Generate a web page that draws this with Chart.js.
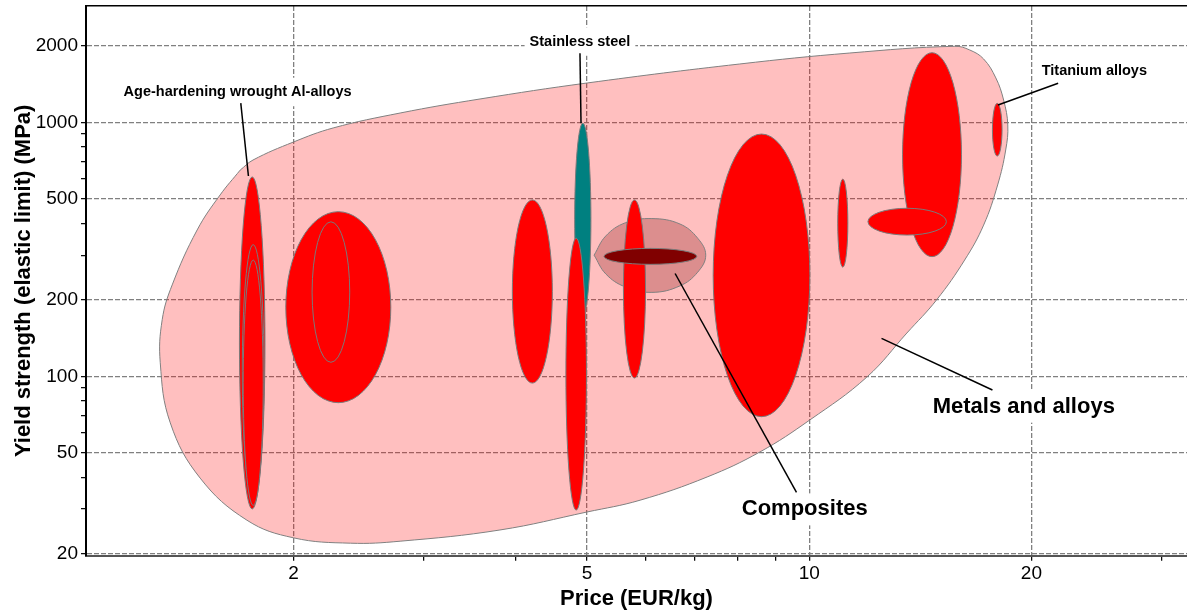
<!DOCTYPE html>
<html>
<head>
<meta charset="utf-8">
<script src="https://cdn.jsdelivr.net/npm/chart.js@4.4.1/dist/chart.umd.min.js"></script>
<style>
  html, body { margin: 0; padding: 0; background: #fff; }
</style>
</head>
<body>
<canvas id="graficoMateriais" width="1187" height="611"></canvas>
<script>
// eixos (log-log)
const priceMin = 1.047, priceMax = 32.5;
const strengthMin = 19.64, strengthMax = 2875;
const xLabelTicks = [2, 5, 10, 20];
const xMinorTicks = [3, 4, 6, 7, 8, 9, 30];
const yLabelTicks = [20, 50, 100, 200, 500, 1000, 2000];
const yMinorTicks = [30, 40, 60, 70, 80, 90, 300, 400, 600, 700, 800, 900];

// envelope "Metals and alloys" (contorno)
const metalsPrice = [1.694, 1.763, 2.0, 2.264, 2.79, 3.58, 5.0, 8.05, 11.35, 15.75, 16.5, 17.23, 17.9, 18.34, 18.58, 18.46, 18.0, 17.23, 16.24, 14.88, 13.56, 11.97, 10.02, 8.57, 7.27, 5.9, 5.0, 3.81, 2.79, 2.39, 2.0, 1.73, 1.495, 1.362, 1.32, 1.328, 1.37, 1.481, 1.591, 1.694];
const metalsStrength = [649, 711, 837, 951, 1089, 1237, 1430, 1699, 1877, 1995, 1929, 1778, 1497, 1225, 977, 779, 567, 394, 287, 200, 148, 99.3, 67.3, 50.3, 40.1, 32.5, 29.2, 24.8, 22.4, 22.0, 23.1, 27.1, 39.7, 65.5, 113, 167, 229, 377, 518, 649];

// envelope "Composites"
const compositesPrice = [5.11, 5.30, 5.63, 6.12, 6.68, 7.06, 7.24, 7.06, 6.68, 6.12, 5.63, 5.30, 5.11];
const compositesStrength = [300, 357, 402, 418, 398, 350, 300, 257, 227, 214, 225, 253, 300];

// bolhas de cada material (faixa de preço e de tensão), na ordem de desenho
const bubblePriceLow   = [1.69, 1.705, 1.71, 1.953, 2.12, 3.96, 4.81, 4.68, 5.6, 5.27, 7.41, 10.93, 13.38, 12.01, 17.71];
const bubblePriceHigh  = [1.83, 1.825, 1.82, 2.71, 2.384, 4.486, 5.06, 4.99, 6.0, 7.04, 10.02, 11.28, 16.08, 15.34, 18.25];
const bubbleStrengthLow  = [30, 33, 31, 78.7, 113.5, 94, 174, 29.7, 98.4, 276, 69.3, 269, 296, 360, 737];
const bubbleStrengthHigh = [610, 330, 287, 445, 406, 495, 993, 350, 495, 319, 900, 598, 1882, 459, 1189];
const bubbleColors = ['#ff0000', '#ff0000', '#ff0000', '#ff0000', '#ff0000', '#ff0000', '#008080', '#ff0000', '#ff0000', '#800000', '#ff0000', '#ff0000', '#ff0000', '#ff0000', '#ff0000'];

// rótulos com linha de chamada (posições em coordenadas dos eixos)
const rotulos = [
    { text: 'Age-hardening wrought Al-alloys', x: 1.68, y: 1318, size: 14.5, from: [1.697, 1192], to: [1.738, 615] },
    { text: 'Stainless steel', x: 4.89, y: 2083, size: 14.5, from: [4.89, 1872], to: [4.906, 992] },
    { text: 'Titanium alloys', x: 24.34, y: 1594, size: 14.5, from: [21.74, 1426], to: [18.02, 1171] },
    { text: 'Metals and alloys', x: 19.53, y: 75.9, size: 22, from: [17.71, 88.3], to: [12.53, 141] },
    { text: 'Composites', x: 9.86, y: 29.9, size: 22, from: [9.61, 34.9], to: [6.58, 254] }
];

const fonte = '"Liberation Sans", Arial, sans-serif';
Chart.defaults.font.family = fonte;
Chart.defaults.color = '#000';

function pontos(xs, ys) {
    return xs.map((v, i) => ({ x: v, y: ys[i] }));
}

const bolhasPlugin = {
    id: 'bolhas',
    afterDatasetsDraw(chart) {
        const { ctx } = chart;
        const sx = chart.scales.x, sy = chart.scales.y;
        ctx.save();
        for (let i = 0; i < bubblePriceLow.length; i++) {
            const x1 = sx.getPixelForValue(bubblePriceLow[i]);
            const x2 = sx.getPixelForValue(bubblePriceHigh[i]);
            const y1 = sy.getPixelForValue(bubbleStrengthLow[i]);
            const y2 = sy.getPixelForValue(bubbleStrengthHigh[i]);
            ctx.beginPath();
            ctx.ellipse((x1 + x2) / 2, (y1 + y2) / 2, Math.abs(x2 - x1) / 2, Math.abs(y2 - y1) / 2, 0, 0, Math.PI * 2);
            ctx.fillStyle = bubbleColors[i];
            ctx.fill();
            ctx.lineWidth = 1;
            ctx.strokeStyle = '#7a7a7a';
            ctx.stroke();
        }

        // caixas brancas dos rótulos
        rotulos.forEach(r => {
            ctx.font = 'bold ' + r.size + 'px ' + fonte;
            const w = ctx.measureText(r.text).width;
            const cx = sx.getPixelForValue(r.x), cy = sy.getPixelForValue(r.y);
            const padY = r.size < 20 ? 7 : 5;
            ctx.fillStyle = '#fff';
            ctx.fillRect(cx - w / 2 - 5, cy - r.size / 2 - padY, w + 10, r.size + padY * 2);
        });
        // linhas de chamada
        ctx.strokeStyle = '#000';
        ctx.lineWidth = 1.5;
        rotulos.forEach(r => {
            ctx.beginPath();
            ctx.moveTo(sx.getPixelForValue(r.from[0]), sy.getPixelForValue(r.from[1]));
            ctx.lineTo(sx.getPixelForValue(r.to[0]), sy.getPixelForValue(r.to[1]));
            ctx.stroke();
        });
        // textos
        ctx.fillStyle = '#000';
        ctx.textAlign = 'center';
        ctx.textBaseline = 'middle';
        rotulos.forEach(r => {
            ctx.font = 'bold ' + r.size + 'px ' + fonte;
            ctx.fillText(r.text, sx.getPixelForValue(r.x), sy.getPixelForValue(r.y));
        });
        ctx.restore();
    }
};

function gradeCor(majors) {
    return c => (c.tick && majors.includes(c.tick.value)) ? '#808080' : 'rgba(0,0,0,0)';
}

const configuracaoGrafico = {
    type: 'scatter',
    data: {
        datasets: [
            {
                label: 'Composites',
                data: pontos(compositesPrice, compositesStrength),
                showLine: true,
                fill: 'shape',
                tension: 0.4,
                backgroundColor: '#dc8e8e',
                borderColor: '#808080',
                borderWidth: 1,
                pointRadius: 0,
                order: 1
            },
            {
                label: 'Metals and alloys',
                data: pontos(metalsPrice, metalsStrength),
                showLine: true,
                fill: 'shape',
                tension: 0.4,
                backgroundColor: 'rgba(255, 0, 0, 0.25)',
                borderColor: '#808080',
                borderWidth: 1,
                pointRadius: 0,
                order: 2
            }
        ]
    },
    options: {
        responsive: false,
        animation: false,
        events: [],
        layout: { padding: 0 },
        plugins: {
            legend: { display: false },
            tooltip: { enabled: false }
        },
        scales: {
            x: {
                type: 'logarithmic',
                position: 'bottom',
                min: priceMin,
                max: priceMax,
                afterBuildTicks: s => {
                    s.ticks = xLabelTicks.concat(xMinorTicks).sort((a, b) => a - b).map(v => ({ value: v }));
                },
                afterFit: s => { s.height = 55.3; s.paddingLeft = 0; s.paddingRight = 0; },
                ticks: {
                    autoSkip: false,
                    maxRotation: 0,
                    padding: 2,
                    font: { size: 19 },
                    callback: v => xLabelTicks.includes(v) ? String(v) : ''
                },
                grid: {
                    color: gradeCor(xLabelTicks),
                    lineWidth: 1.3,
                    tickColor: '#000',
                    tickLength: 5,
                    tickWidth: 1.2,
                    tickBorderDash: []
                },
                border: { color: '#555', width: 2, dash: [5, 2] },
                title: {
                    display: true,
                    text: 'Price (EUR/kg)',
                    font: { size: 22, weight: 'bold', lineHeight: 1 },
                    padding: { top: 0, bottom: 1 }
                }
            },
            x2: {
                type: 'logarithmic',
                position: 'top',
                min: priceMin,
                max: priceMax,
                afterFit: s => { s.height = 6; s.paddingLeft = 0; s.paddingRight = 0; },
                ticks: { display: false },
                grid: { display: false, drawTicks: false },
                border: { color: '#000', width: 1.5 }
            },
            y: {
                type: 'logarithmic',
                min: strengthMin,
                max: strengthMax,
                afterBuildTicks: s => {
                    s.ticks = yLabelTicks.concat(yMinorTicks).sort((a, b) => a - b).map(v => ({ value: v }));
                },
                afterFit: s => { s.width = 86; s.paddingTop = 0; s.paddingBottom = 0; },
                ticks: {
                    autoSkip: false,
                    padding: 3,
                    font: { size: 19 },
                    callback: v => yLabelTicks.includes(v) ? String(v) : ''
                },
                grid: {
                    color: gradeCor(yLabelTicks),
                    lineWidth: 1.3,
                    tickColor: '#000',
                    tickLength: 5,
                    tickWidth: 1.2,
                    tickBorderDash: []
                },
                border: { color: '#000', width: 2, dash: [5, 2] },
                title: {
                    display: true,
                    text: 'Yield strength (elastic limit) (MPa)',
                    font: { size: 22, weight: 'bold', lineHeight: 1 },
                    padding: { top: 13, bottom: 0 }
                }
            }
        }
    },
    plugins: [bolhasPlugin]
};

var graficoMateriais = new Chart(
    document.getElementById('graficoMateriais'),
    configuracaoGrafico
);
</script>
</body>
</html>
